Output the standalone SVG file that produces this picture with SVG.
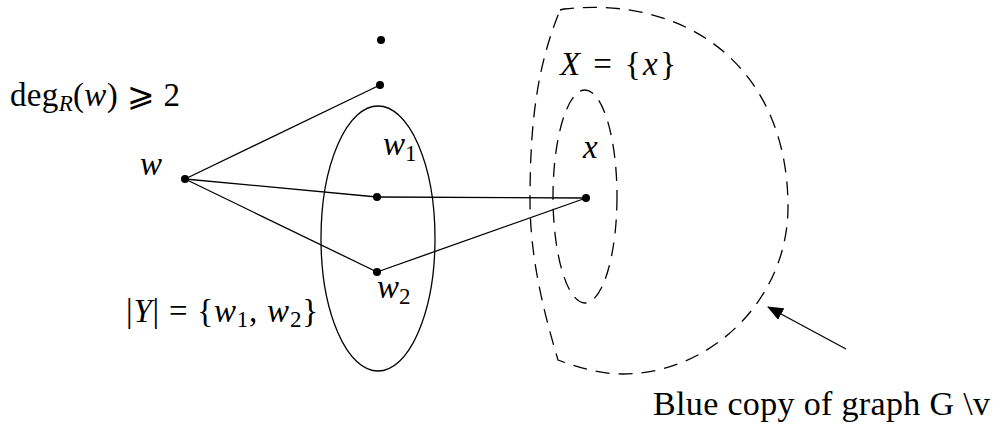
<svg xmlns="http://www.w3.org/2000/svg" width="994" height="432" viewBox="0 0 994 432">
<defs>
<style>
.t{font-family:"Liberation Serif","DejaVu Serif",serif;font-size:33px;fill:#000}
.i{font-style:italic}
.s{font-size:23px}
.ln{stroke:#000;stroke-width:1.3;fill:none}
.da{stroke:#000;stroke-width:1.3;fill:none;stroke-dasharray:14 9}
.dot{fill:#000}
</style>
<marker id="ah" markerWidth="16" markerHeight="13" refX="15" refY="6.5" orient="auto" markerUnits="userSpaceOnUse">
<path d="M0,0 L16,6.5 L0,13 Z" fill="#000"/>
</marker>
</defs>
<rect width="994" height="432" fill="#fff"/>
<g id="setY"><ellipse class="ln" cx="378" cy="238.5" rx="57" ry="132.5"/></g>
<g id="copyG"><path class="da" d="M560,10 L564,9 C690,-5 788,70 788,207 C788,300 710,374 623,374 C600,374 580,368 558,360 C540,300 530,250 530,200 C530,110 540,60 560,10 Z"/></g>
<g id="setX"><ellipse class="da" cx="585" cy="196.5" rx="32" ry="106.5"/></g>
<g id="connectors">
<line class="ln" x1="185" y1="179" x2="380" y2="85"/>
<line class="ln" x1="185" y1="179" x2="377" y2="197"/>
<line class="ln" x1="185" y1="179" x2="377" y2="272"/>
<line class="ln" x1="377" y1="197" x2="586" y2="198"/>
<line class="ln" x1="377" y1="272" x2="586" y2="198"/>
<line class="ln" x1="846" y1="349" x2="768" y2="307" marker-end="url(#ah)"/>
</g>
<g id="node-top"><circle class="dot" cx="381" cy="40" r="4"/></g>
<g id="node-r"><circle class="dot" cx="380" cy="85" r="4"/></g>
<g id="node-w"><circle class="dot" cx="185" cy="179" r="4"/><text class="t i" x="140" y="175">w</text></g>
<g id="node-w1"><circle class="dot" cx="377" cy="197" r="4"/><text class="t" x="383" y="155"><tspan class="i">w</tspan><tspan class="s" dy="6">1</tspan></text></g>
<g id="node-w2"><circle class="dot" cx="377" cy="272" r="4"/><text class="t" x="377" y="298"><tspan class="i">w</tspan><tspan class="s" dy="6">2</tspan></text></g>
<g id="node-x"><circle class="dot" cx="586" cy="198" r="4"/><text class="t i" x="583" y="158">x</text></g>
<g id="labels">
<text class="t" x="10" y="106" textLength="170" lengthAdjust="spacing">deg<tspan class="s i" dy="5">R</tspan><tspan dy="-5">(</tspan><tspan class="i">w</tspan>) ⩾ 2</text>
<text class="t" x="126" y="322" textLength="192" lengthAdjust="spacing">|<tspan class="i">Y</tspan>| = {<tspan class="i">w</tspan><tspan class="s" dy="5">1</tspan><tspan dy="-5">, </tspan><tspan class="i">w</tspan><tspan class="s" dy="5">2</tspan><tspan dy="-5">}</tspan></text>
<text class="t" x="560" y="75" textLength="116" lengthAdjust="spacing"><tspan class="i">X</tspan> = {<tspan class="i">x</tspan>}</text>
<text class="t" x="653" y="415" style="font-size:34px" textLength="337" lengthAdjust="spacing">Blue copy of graph G \v</text>
</g>
</svg>
